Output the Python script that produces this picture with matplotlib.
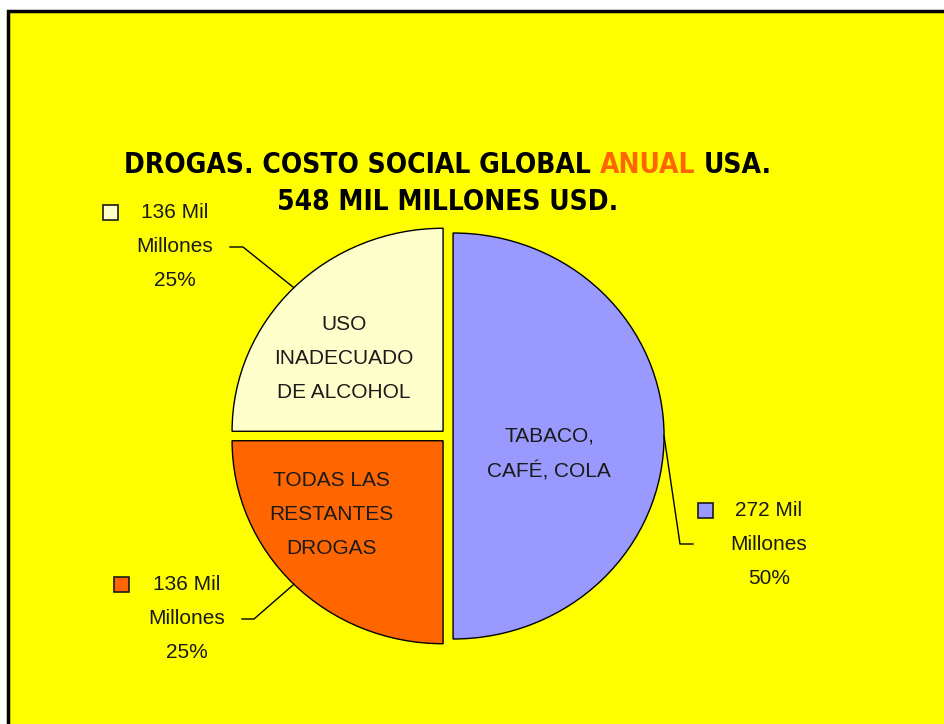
import matplotlib
matplotlib.use("Agg")
import matplotlib.pyplot as plt
from matplotlib import font_manager
from matplotlib.font_manager import FontProperties
from matplotlib.patches import Rectangle
import numpy as np

# data
categories = ["TABACO,\nCAFÉ, COLA", "TODAS LAS\nRESTANTES\nDROGAS", "USO\nINADECUADO\nDE ALCOHOL"]
values = [272, 136, 136]
colors = ["#9999FF", "#FF6600", "#FFFFCC"]
outer_labels = ["272 Mil\nMillones\n50%", "136 Mil\nMillones\n25%", "136 Mil\nMillones\n25%"]
title_parts = [("DROGAS. COSTO SOCIAL GLOBAL ", "black"), ("ANUAL", "#FF6600"), (" USA.", "black")]
title_line2 = "548 MIL MILLONES USD."

W, H = 945, 724
fig = plt.figure(figsize=(W / 100, H / 100), dpi=100)
fig.patch.set_facecolor("white")

# background axes in pixel units (y down)
bg = fig.add_axes([0, 0, 1, 1], zorder=0)
bg.set_xlim(0, W)
bg.set_ylim(H, 0)
bg.axis("off")
bg.add_patch(Rectangle((8, 11), W + 20, H + 20, facecolor="#FFFF00",
                       edgecolor="black", lw=2.5))

# pie axes: slightly elliptical like the original
cx, cy, rx, ry = 448, 436, 211, 203
lim = 1.2
pw, ph = 2 * lim * rx, 2 * lim * ry
ax = fig.add_axes([(cx - pw / 2) / W, (H - cy - ph / 2) / H, pw / W, ph / H], zorder=1)
wedges, _ = ax.pie(values, colors=colors, startangle=90, counterclock=False,
                   explode=[0.024, 0.033, 0.033],
                   wedgeprops=dict(edgecolor="black", linewidth=1))
ax.set_aspect("auto")
ax.set_xlim(-lim, lim)
ax.set_ylim(-lim, lim)
ax.axis("off")

# overlay axes for labels
top = fig.add_axes([0, 0, 1, 1], zorder=2)
top.set_xlim(0, W)
top.set_ylim(H, 0)
top.axis("off")
top.patch.set_alpha(0)

lab_font = "Liberation Sans"
inner_pos = [(549, 454), (331, 515), (344, 358)]
for txt, (x, y) in zip(categories, inner_pos):
    top.text(x, y, txt, ha="center", va="center", fontsize=15, family=lab_font,
             color="#1a1a1a", linespacing=2.0)

# outer labels with legend keys and leader lines
outer_pos = [(769, 544), (187, 618), (175, 246)]
key_pos = [(705, 510), (121, 584), (110, 212)]
elbows = [[(693, 544), (680, 544)], [(242, 619), (254, 619)], [(230, 247), (243, 247)]]

to_px = top.transData.inverted()
for w, txt, (x, y), (kx, ky), el, c in zip(wedges, outer_labels, outer_pos, key_pos, elbows, colors):
    top.text(x, y, txt, ha="center", va="center", fontsize=15, family=lab_font,
             color="#1a1a1a", linespacing=2.0)
    top.add_patch(Rectangle((kx - 7.5, ky - 7.5), 15, 15, facecolor=c,
                            edgecolor="#1a1a1a", lw=1.2))
    ang = np.deg2rad((w.theta1 + w.theta2) / 2)
    px, py = w.center[0] + w.r * np.cos(ang), w.center[1] + w.r * np.sin(ang)
    ex, ey = to_px.transform(ax.transData.transform((px, py)))
    top.plot([el[0][0], el[1][0], ex], [el[0][1], el[1][1], ey], color="black", lw=1)

# title: prefer a condensed bold face if one is installed
narrow = [f for f in font_manager.fontManager.ttflist
          if (("ondensed" in str(f.stretch)) or ("Narrow" in f.name) or ("Condensed" in f.name))
          and f.weight in ("bold", 700, "700")]
if narrow:
    tprop = FontProperties(fname=narrow[0].fname, size=23)
else:
    tprop = FontProperties(family="Roboto", weight="bold", size=23)
renderer = fig.canvas.get_renderer()


def width_of(s, prop):
    t = top.text(0, 0, s, fontproperties=prop)
    bb = t.get_window_extent(renderer)
    t.remove()
    return bb.width


# scale so the first title line spans roughly the original width
full = "".join(p[0] for p in title_parts)
tprop.set_size(tprop.get_size() * 650 / width_of(full, tprop))

space = width_of("A A", tprop) - width_of("AA", tprop)
pieces = []
for s, col in title_parts:
    lead = len(s) - len(s.lstrip(" "))
    trail = len(s) - len(s.rstrip(" "))
    pieces.append((s.strip(" "), col, lead * space, trail * space))
total = sum(width_of(p[0], tprop) + p[2] + p[3] for p in pieces)
x = 448 - total / 2
for s, col, lead, trail in pieces:
    x += lead
    top.text(x, 173, s, color=col, ha="left", va="baseline", fontproperties=tprop)
    x += width_of(s, tprop) + trail
top.text(448, 210, title_line2, color="black", ha="center", va="baseline", fontproperties=tprop)

fig.savefig("out.png", dpi=100, facecolor=fig.get_facecolor())
